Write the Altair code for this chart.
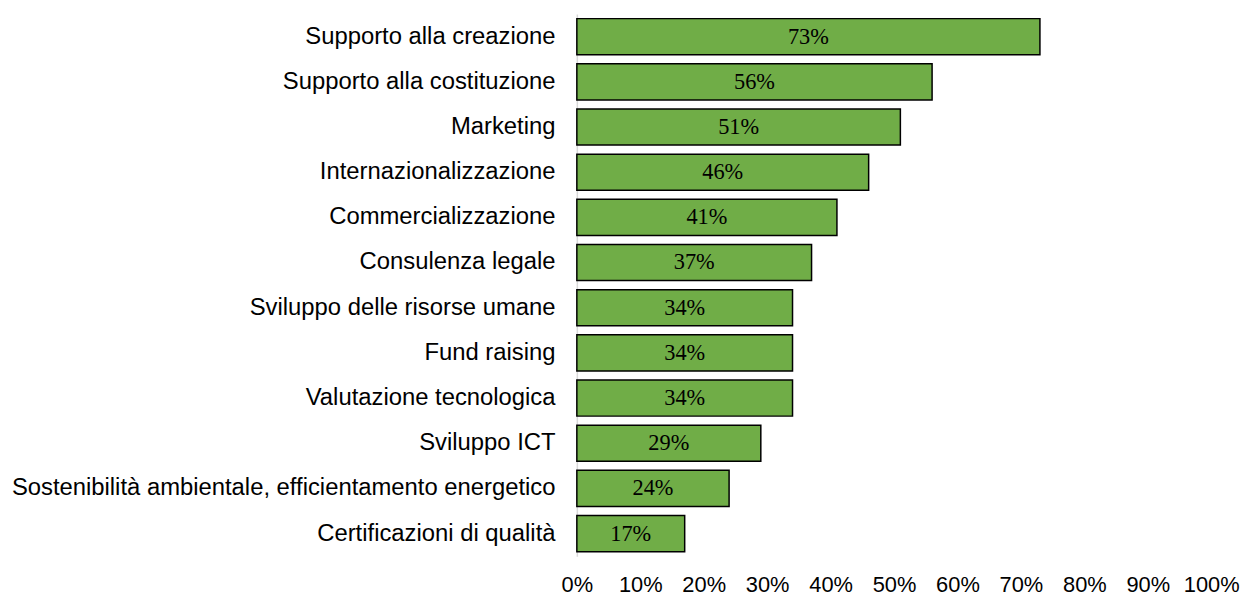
import altair as alt
import pandas as pd

categories = [
    "Supporto alla creazione",
    "Supporto alla costituzione",
    "Marketing",
    "Internazionalizzazione",
    "Commercializzazione",
    "Consulenza legale",
    "Sviluppo delle risorse umane",
    "Fund raising",
    "Valutazione tecnologica",
    "Sviluppo ICT",
    "Sostenibilità ambientale, efficientamento energetico",
    "Certificazioni di qualità",
]
values = [0.73, 0.56, 0.51, 0.46, 0.41, 0.37, 0.34, 0.34, 0.34, 0.29, 0.24, 0.17]

df = pd.DataFrame({"cat": categories, "val": values})
df["mid"] = df["val"] / 2
df["label"] = [f"{round(v*100)}%" for v in values]

y = alt.Y("cat:N", sort=categories, title=None,
          scale=alt.Scale(paddingInner=0.2, paddingOuter=0.1),
          axis=alt.Axis(domain=True, domainColor="#d9d9d9", domainWidth=1.5, ticks=False,
                        labelFont="Liberation Sans", labelFontSize=24, labelColor="#000000",
                        labelPadding=22, labelLimit=900))

bars = alt.Chart(df).mark_bar(color="#70AD47", stroke="#000000", strokeWidth=1.5).encode(
    x=alt.X("val:Q", title=None,
            scale=alt.Scale(domain=[0, 1]),
            axis=alt.Axis(format=".0%", values=[i/10 for i in range(11)], domain=False, ticks=False,
                          grid=False, labelFont="Liberation Sans", labelFontSize=22,
                          labelColor="#000000", labelPadding=19, labelFlush=False)),
    y=y,
)

text = alt.Chart(df).mark_text(font="Liberation Serif", fontSize=22.5, color="#000000",
                               baseline="middle", align="center").encode(
    x=alt.X("mid:Q"),
    y=alt.Y("cat:N", sort=categories),
    text="label:N",
)

chart = (bars + text).properties(
    width=639, height=546,
    padding={"left": 3, "top": 4, "right": 0, "bottom": 0},
).configure_view(stroke=None)

chart.save("out.html", embed_options={"renderer": "svg", "actions": False})
